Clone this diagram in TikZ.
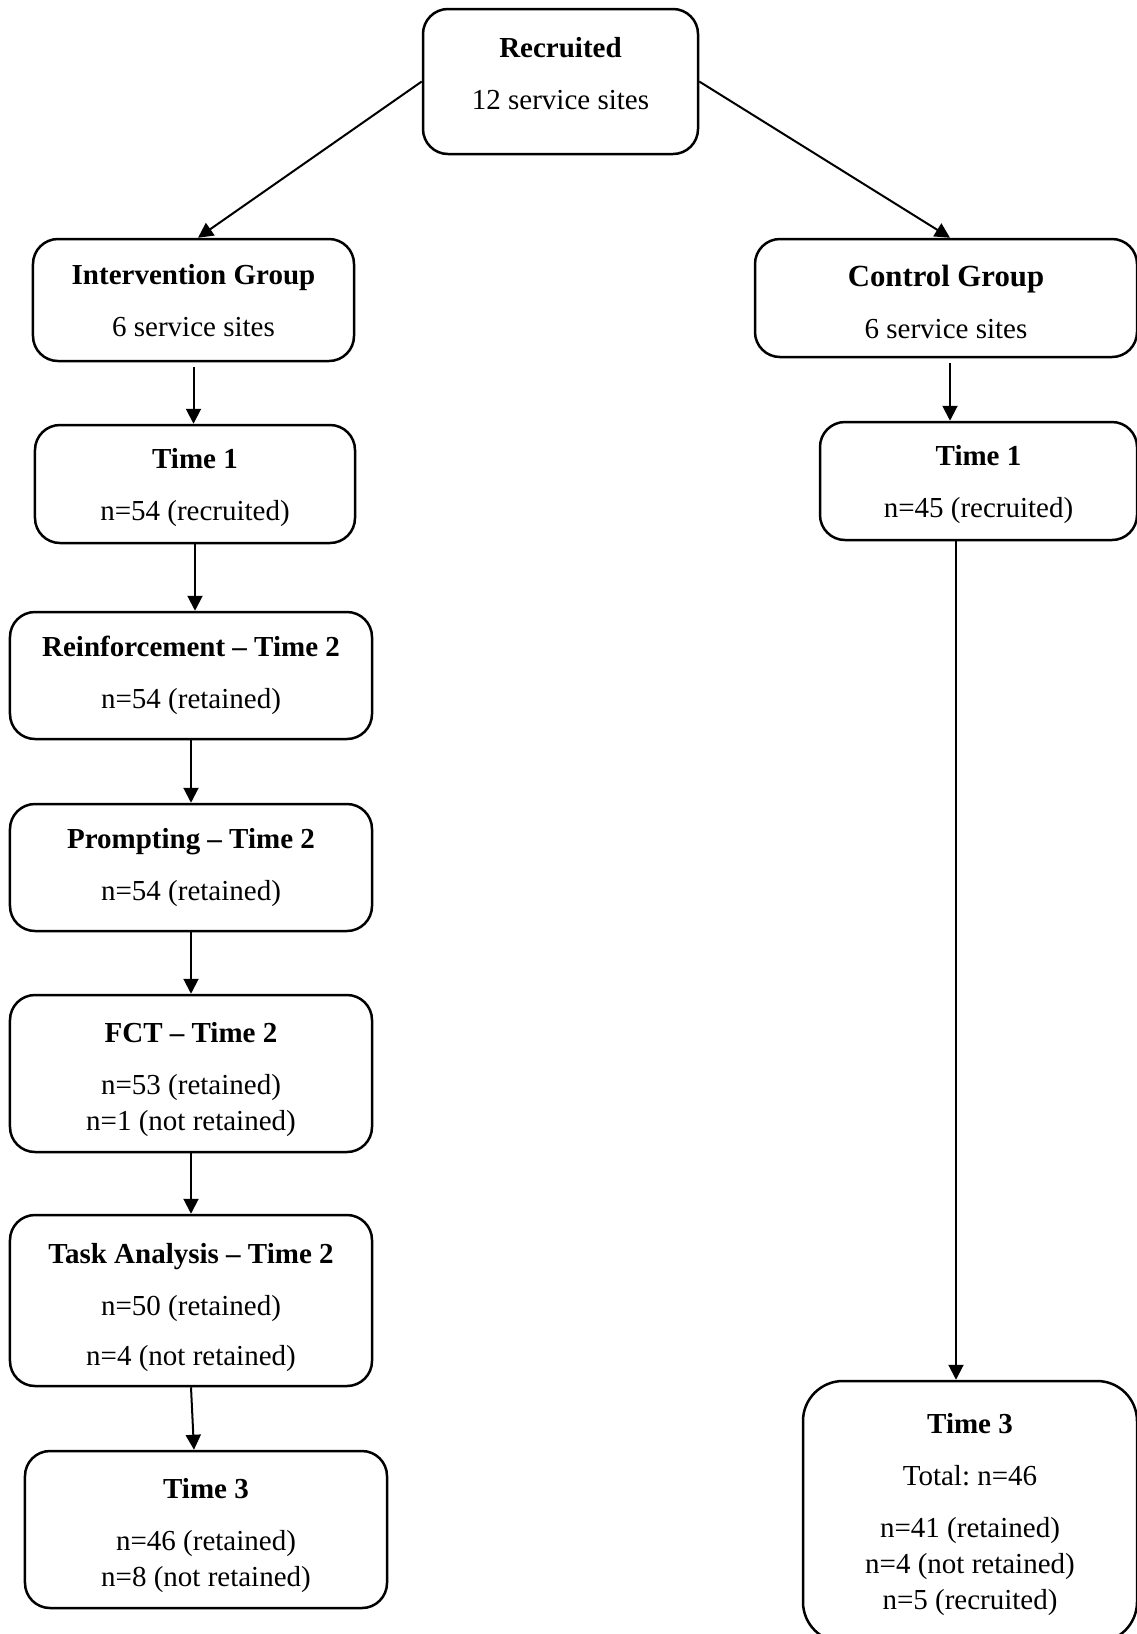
\documentclass[tikz,border=0pt]{standalone}
\usepackage{fontspec}
\setmainfont{Liberation Serif}
\frenchspacing
\usetikzlibrary{arrows.meta}

\begin{document}
\begin{tikzpicture}[x=0.4pt, y=-0.4pt,
        box/.style={draw, line width=1pt, rounded corners=10pt, align=center, inner sep=0pt,
            font=\fontsize{11.6}{14.4}\selectfont},
        arr/.style={-{Triangle[length=6pt,width=6pt]}, line width=0.8pt}]
        \useasboundingbox (0,0) rectangle (1136,1634);

        % Top
        \node[box, minimum width=110pt, minimum height=58pt, text depth=6.7pt] (recr) at (560.5,81.5)
            {\textbf{Recruited}\\[6.4pt]12 service sites};

        % Intervention side
        \node[box, minimum width=128.4pt, minimum height=48.8pt, text depth=0pt] (igrp) at (193.5,300)
            {\textbf{Intervention Group}\\[6.4pt]6 service sites};
        \node[box, minimum width=128pt, minimum height=47.2pt, text depth=0pt] (itone) at (195,484)
            {\textbf{Time 1}\\[6.4pt]n=54 (recruited)};
        \node[box, minimum width=144.8pt, minimum height=50.8pt] (reinf) at (191,675.5)
            {\textbf{Reinforcement -- Time 2}\\[6.4pt]n=54 (retained)};
        \node[box, minimum width=144.8pt, minimum height=50.8pt] (prompt) at (191,867.5)
            {\textbf{Prompting -- Time 2}\\[6.4pt]n=54 (retained)};
        \node[box, minimum width=144.8pt, minimum height=62.8pt, text depth=0pt] (fct) at (191,1073.5)
            {\rule{0pt}{10.5pt}\textbf{FCT -- Time 2}\\[6.4pt]n=53 (retained)\\n=1 (not retained)};
        \node[box, minimum width=144.8pt, minimum height=68.4pt, text depth=0pt] (task) at (191,1300.5)
            {\rule{0pt}{11.4pt}\textbf{Task Analysis -- Time 2}\\[6.4pt]n=50 (retained)\\[5.6pt]n=4 (not retained)};
        \node[box, minimum width=144.8pt, minimum height=62.8pt, text depth=0pt] (itthree) at (206,1529.5)
            {\rule{0pt}{10.5pt}\textbf{Time 3}\\[6.4pt]n=46 (retained)\\n=8 (not retained)};

        % Control side
        \node[box, minimum width=152.8pt, minimum height=47.2pt, text depth=0pt] (cgrp) at (946,298)
            {\rule{0pt}{11.9pt}{\fontsize{12.3}{14.4}\selectfont\textbf{Control Group}}\\[6.4pt]6 service sites};
        \node[box, minimum width=126.8pt, minimum height=47.2pt, text depth=0pt] (ctone) at (978.5,481)
            {\textbf{Time 1}\\[6.4pt]n=45 (recruited)};
        \node[box, rounded corners=16pt, minimum width=133.6pt, minimum height=104.4pt, text depth=0pt] (ctthree) at (970,1511.5)
            {\textbf{Time 3}\\[6.4pt]Total: n=46\\[6.4pt]n=41 (retained)\\n=4 (not retained)\\n=5 (recruited)};

        % Arrows
        \draw[arr] (recr.west) -- ([xshift=1.8pt]igrp.north);
        \draw[arr] (recr.east) -- ([xshift=1.6pt]cgrp.north);

        \draw[arr, shorten <=2pt] (igrp.south) -- (igrp.south |- itone.north);
        \draw[arr] (itone.south) -- (itone.south |- reinf.north);
        \draw[arr] (reinf.south) -- (prompt.north);
        \draw[arr] (prompt.south) -- (fct.north);
        \draw[arr] (fct.south) -- (task.north);
        \draw[arr] (task.south) -- ([xshift=-4.8pt]itthree.north);

        \draw[arr, shorten <=2pt] ([xshift=1.6pt]cgrp.south) -- ([xshift=1.6pt]cgrp.south |- ctone.north);
        \draw[arr] ([xshift=-9pt]ctone.south) -- ([xshift=-9pt]ctone.south |- ctthree.north);
    \end{tikzpicture}
\end{document}
